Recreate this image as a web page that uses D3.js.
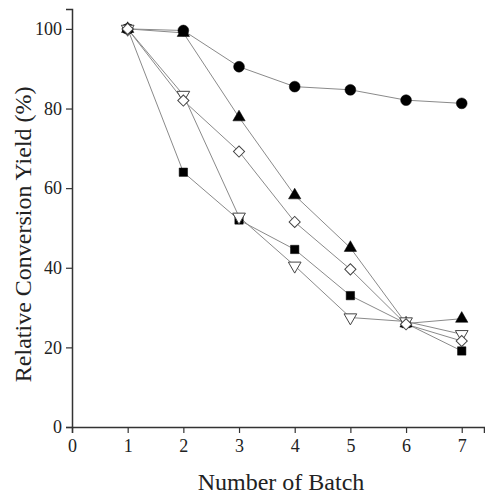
<!DOCTYPE html>
<html>
<head>
<meta charset="utf-8">
<script src="https://cdn.jsdelivr.net/npm/d3@7"></script>
<style>
  html, body { margin: 0; padding: 0; background: #fff; }
  svg { display: block; }
  svg text { font-family: "Liberation Serif", "Times New Roman", serif; fill: #222; }
</style>
</head>
<body>
<svg id="chart" width="485" height="494"></svg>
<script>
// Batch numbers and relative conversion yield (%) for each series
const batches = [1, 2, 3, 4, 5, 6, 7];
const circleSeries   = [100, 99.6, 90.5, 85.5, 84.7, 82.1, 81.3];
const triangleSeries = [100, 99.0, 77.8, 58.2, 45.0, 26.0, 27.2];
const squareSeries   = [100, 64.0, 52.0, 44.6, 33.0, 26.0, 19.1];
const nablaSeries    = [100, 83.4, 52.8, 40.5, 27.5, 26.5, 23.3];
const diamondSeries  = [100, 82.0, 69.2, 51.5, 39.6, 25.8, 21.6];

const xTicks = [0, 1, 2, 3, 4, 5, 6, 7];
const yTicks = [0, 20, 40, 60, 80, 100];

const serif = "'Liberation Serif', 'Times New Roman', serif";
const svg = d3.select("#chart");
const x = d3.scaleLinear().domain([0, 7.4]).range([72, 484]);
const y = d3.scaleLinear().domain([0, 105]).range([427, 9]);

const axisColor = "#333";

// Axes
const xAxis = svg.append("g")
  .attr("transform", `translate(0,${y(0)})`)
  .call(d3.axisBottom(x).tickValues(xTicks).tickFormat(d3.format("d")).tickSize(6).tickPadding(6));
const yAxis = svg.append("g")
  .attr("transform", `translate(${x(0)},0)`)
  .call(d3.axisLeft(y).tickValues(yTicks).tickFormat(d3.format("d")).tickSize(6).tickPadding(4));

[xAxis, yAxis].forEach(g => {
  g.attr("font-family", serif).attr("font-size", 18);
  g.select(".domain").attr("stroke", axisColor).attr("stroke-width", 1.5);
  g.selectAll(".tick line").attr("stroke", axisColor).attr("stroke-width", 1.2);
  g.selectAll(".tick text")
    .style("font-family", serif)
    .attr("font-size", 18).attr("fill", "#222");
});

// Axis titles
svg.append("text")
  .attr("x", 281).attr("y", 490)
  .attr("text-anchor", "middle")
  .attr("font-size", 24)
  .text("Number of Batch");
svg.append("text")
  .attr("transform", `translate(31,${y(48.4)}) rotate(-90)`)
  .attr("text-anchor", "middle")
  .attr("font-size", 24)
  .text("Relative Conversion Yield (%)");

const series = [
  { values: circleSeries,   shape: d3.symbolCircle,   size: 92, fill: "#000", rot: 0 },
  { values: triangleSeries, shape: d3.symbolTriangle, size: 66, fill: "#000", rot: 0 },
  { values: squareSeries,   shape: d3.symbolSquare,   size: 70, fill: "#000", rot: 0 },
  { values: nablaSeries,    shape: d3.symbolTriangle, size: 70, fill: "#fff", rot: 180 },
  { values: diamondSeries,  shape: d3.symbolSquare,   size: 62, fill: "#fff", rot: 45 }
];

const line = d3.line().x(d => x(d[0])).y(d => y(d[1]));

// Connecting lines
series.forEach(s => {
  svg.append("path")
    .datum(batches.map((b, i) => [b, s.values[i]]))
    .attr("d", line)
    .attr("fill", "none")
    .attr("stroke", "#8a8a8a")
    .attr("stroke-width", 1);
});

// Markers
series.forEach(s => {
  svg.append("g").selectAll("path")
    .data(batches.map((b, i) => [b, s.values[i]]))
    .join("path")
    .attr("transform", d => `translate(${x(d[0])},${y(d[1])}) rotate(${s.rot})`)
    .attr("d", d3.symbol().type(s.shape).size(s.size))
    .attr("fill", s.fill)
    .attr("stroke", s.fill === "#fff" ? "#444" : "#000")
    .attr("stroke-width", s.fill === "#fff" ? 1 : 0.5);
});
</script>
</body>
</html>
